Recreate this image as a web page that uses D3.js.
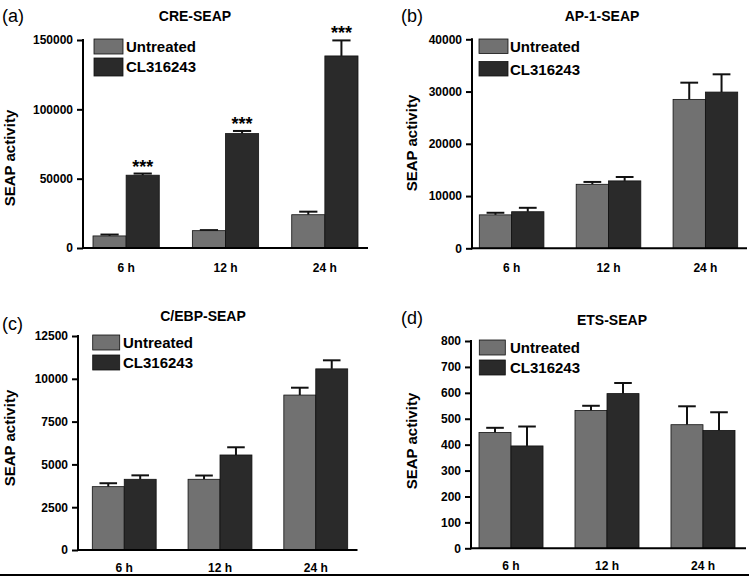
<!DOCTYPE html>
<html>
<head>
<meta charset="utf-8">
<script src="https://cdn.jsdelivr.net/npm/d3@7"></script>
<style>
  html, body { margin: 0; padding: 0; background: #fff; }
  svg { display: block; }
</style>
</head>
<body>
<svg id="chart" width="749" height="577" font-family="Liberation Sans, Arial, Helvetica, sans-serif"></svg>
<script>
// ---------- data ----------
const categories = ["6 h", "12 h", "24 h"];
const seriesNames = ["Untreated", "CL316243"];

const creUntreated = [8700, 12500, 24000];
const creUntreatedErr = [1000, 400, 2200];
const creCL = [52500, 82500, 138500];
const creCLErr = [1200, 1900, 11200];
const creStars = ["***", "***", "***"];
const creTicks = [0, 50000, 100000, 150000];

const ap1Untreated = [6400, 12250, 28500];
const ap1UntreatedErr = [400, 450, 3200];
const ap1CL = [7000, 12900, 29900];
const ap1CLErr = [750, 750, 3400];
const ap1Ticks = [0, 10000, 20000, 30000, 40000];

const cebpUntreated = [3700, 4130, 9050];
const cebpUntreatedErr = [200, 220, 430];
const cebpCL = [4130, 5550, 10580];
const cebpCLErr = [230, 450, 500];
const cebpTicks = [0, 2500, 5000, 7500, 10000, 12500];

const etsUntreated = [447, 532, 477];
const etsUntreatedErr = [18, 18, 71];
const etsCL = [395, 597, 455];
const etsCLErr = [75, 41, 70];
const etsTicks = [0, 100, 200, 300, 400, 500, 600, 700, 800];

const panelLetters = ["(a)", "(b)", "(c)", "(d)"];
const panelTitles = ["CRE-SEAP", "AP-1-SEAP", "C/EBP-SEAP", "ETS-SEAP"];
const yAxisTitle = "SEAP activity";

// ---------- layout (positions/styles) ----------
const FONT = "Liberation Sans, Arial, Helvetica, sans-serif";
const colors = ["#717171", "#2a2a2a"];
const panels = [
  { letter: panelLetters[0], title: panelTitles[0], vals: [creUntreated, creCL], errs: [creUntreatedErr, creCLErr], stars: creStars, ticks: creTicks,
    ax: 83, top: 40, bottom: 248, right: 368, b0: 93, b1: 358,
    letterPos: [2, 22], titlePos: [195, 21], ylabPos: [9, 158], xlabY: 272,
    leg: { x: 94, w: 29, sw: [[39, 15], [58, 18]], tx: 126, ty: [52, 72] } },
  { letter: panelLetters[1], title: panelTitles[1], vals: [ap1Untreated, ap1CL], errs: [ap1UntreatedErr, ap1CLErr], stars: null, ticks: ap1Ticks,
    ax: 472, top: 39.3, bottom: 248.3, right: 747, b0: 479.3, b1: 737.7,
    letterPos: [401, 22], titlePos: [602, 21], ylabPos: [411, 143], xlabY: 272,
    leg: { x: 479, w: 29, sw: [[39, 14.5], [61.5, 14.5]], tx: 510, ty: [52, 75] } },
  { letter: panelLetters[2], title: panelTitles[2], vals: [cebpUntreated, cebpCL], errs: [cebpUntreatedErr, cebpCLErr], stars: null, ticks: cebpTicks,
    ax: 78, top: 336, bottom: 550, right: 357.5, b0: 92.3, b1: 347.7,
    letterPos: [2, 330], titlePos: [203, 321], ylabPos: [9, 438], xlabY: 572,
    leg: { x: 92.7, w: 27, sw: [[335, 15], [355, 15]], tx: 123, ty: [348, 368] } },
  { letter: panelLetters[3], title: panelTitles[3], vals: [etsUntreated, etsCL], errs: [etsUntreatedErr, etsCLErr], stars: null, ticks: etsTicks,
    ax: 471, top: 341, bottom: 548.3, right: 746, b0: 479, b1: 735,
    letterPos: [401, 324], titlePos: [612, 325], ylabPos: [411, 441], xlabY: 570,
    leg: { x: 479.3, w: 26, sw: [[340, 15], [360, 15]], tx: 510, ty: [353, 373] } }
];

const svg = d3.select("#chart");

panels.forEach(p => {
  const g = svg.append("g").attr("font-family", FONT);
  const yMax = p.ticks[p.ticks.length - 1];
  const y = d3.scaleLinear().domain([0, yMax]).range([p.bottom, p.top]);
  const x0 = d3.scaleBand().domain(categories).range([p.b0, p.b1]).paddingInner(0.333).paddingOuter(0);
  const x1 = d3.scaleBand().domain(seriesNames).range([0, x0.bandwidth()]).padding(0);

  const rows = [];
  categories.forEach((c, i) => seriesNames.forEach((s, j) => rows.push({ c, s, j, v: p.vals[j][i], e: p.errs[j][i], i })));

  // error bars (one-sided, upward)
  const capW = x1.bandwidth() * 0.55;
  rows.forEach(r => {
    const cx = x0(r.c) + x1(r.s) + x1.bandwidth() / 2;
    g.append("line").attr("x1", cx).attr("x2", cx).attr("y1", y(r.v)).attr("y2", y(r.v + r.e))
      .attr("stroke", "#111").attr("stroke-width", 2);
    g.append("line").attr("x1", cx - capW / 2).attr("x2", cx + capW / 2).attr("y1", y(r.v + r.e)).attr("y2", y(r.v + r.e))
      .attr("stroke", "#111").attr("stroke-width", 2);
  });

  g.selectAll("rect.bar").data(rows).join("rect").attr("class", "bar")
    .attr("x", d => x0(d.c) + x1(d.s))
    .attr("width", x1.bandwidth())
    .attr("y", d => y(d.v))
    .attr("height", d => y(0) - y(d.v))
    .attr("fill", d => colors[d.j])
    .attr("stroke", "#111").attr("stroke-width", 0.8);

  if (p.stars) {
    rows.filter(r => r.j === 1).forEach(r => {
      g.append("text").attr("x", x0(r.c) + x1(r.s) + x1.bandwidth() / 2).attr("y", y(r.v + r.e) - 1)
        .attr("text-anchor", "middle").attr("font-size", 18).attr("font-weight", "bold").text(p.stars[r.i]);
    });
  }

  // y axis
  const yAxis = d3.axisLeft(y).tickValues(p.ticks).tickSize(6).tickPadding(4).tickFormat(d3.format("d"));
  const ya = g.append("g").attr("transform", `translate(${p.ax},0)`).call(yAxis);
  ya.attr("font-family", FONT);
  ya.select(".domain").remove();
  ya.selectAll(".tick line").attr("stroke", "#000").attr("stroke-width", 2);
  ya.selectAll(".tick text").attr("font-size", 12).attr("font-weight", "bold").attr("fill", "#000");
  g.append("line").attr("x1", p.ax).attr("x2", p.ax).attr("y1", p.top - 1).attr("y2", p.bottom + 1)
    .attr("stroke", "#000").attr("stroke-width", 2);

  // x axis
  g.append("line").attr("x1", p.ax - 1).attr("x2", p.right).attr("y1", p.bottom).attr("y2", p.bottom)
    .attr("stroke", "#000").attr("stroke-width", 2);
  categories.forEach(c => {
    g.append("text").attr("x", x0(c) + x0.bandwidth() / 2).attr("y", p.xlabY).attr("text-anchor", "middle")
      .attr("font-size", 12).attr("font-weight", "bold").text(c);
  });

  g.append("text").attr("transform", `translate(${p.ylabPos[0]},${p.ylabPos[1]}) rotate(-90)`)
    .attr("text-anchor", "middle").attr("dominant-baseline", "central")
    .attr("font-size", 15).attr("font-weight", "bold").text(yAxisTitle);

  g.append("text").attr("x", p.titlePos[0]).attr("y", p.titlePos[1]).attr("text-anchor", "middle")
    .attr("font-size", 14).attr("font-weight", "bold").text(p.title);
  g.append("text").attr("x", p.letterPos[0]).attr("y", p.letterPos[1])
    .attr("font-size", 18).text(p.letter);

  seriesNames.forEach((s, j) => {
    g.append("rect").attr("x", p.leg.x).attr("y", p.leg.sw[j][0]).attr("width", p.leg.w).attr("height", p.leg.sw[j][1])
      .attr("fill", colors[j]).attr("stroke", "#111").attr("stroke-width", 0.8);
    g.append("text").attr("x", p.leg.tx).attr("y", p.leg.ty[j]).attr("font-size", 15).attr("font-weight", "bold").text(s);
  });
});

svg.append("line").attr("x1", 0).attr("x2", 749).attr("y1", 575).attr("y2", 575).attr("stroke", "#000").attr("stroke-width", 2);
</script>
</body>
</html>
